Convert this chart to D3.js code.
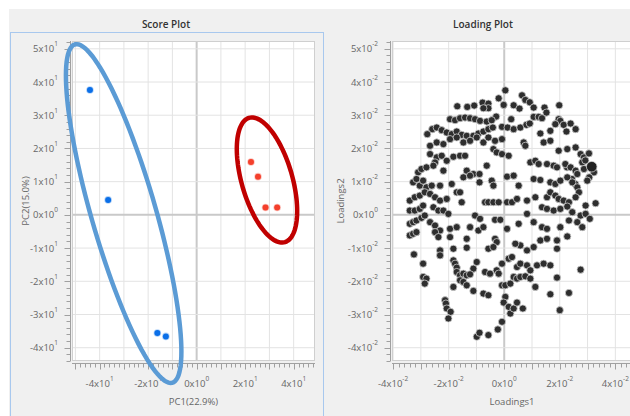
<!DOCTYPE html>
<html>
<head>
<meta charset="utf-8">
<script src="https://cdn.jsdelivr.net/npm/d3@7"></script>
<style>
  body { margin: 0; background: #fff; }
  svg { display: block; font-family: "Open Sans", "Noto Sans", sans-serif; }
</style>
</head>
<body>
<script>
// ---- score plot (PC1, PC2) ----
const blueX = [-44.0, -36.5, -16.2, -12.7];
const blueY = [37.6, 4.5, -35.6, -36.6];
const redX = [22.4, 25.3, 28.4, 33.2];
const redY = [15.9, 11.5, 2.2, 2.2];
// confidence ellipses: cx, cy, rx, ry, angle (deg, data space)
const blueEllipse = [-30.1, 0.4, 54.8, 12.85, 112.1];
const redEllipse = [29.0, 10.5, 20.2, 10.07, 114.7];
const scoreXTicks = [-40, -20, 0, 20, 40];
const scoreYTicks = [-40, -30, -20, -10, 0, 10, 20, 30, 40, 50];

// ---- loading plot, values in units of 1e-2 ----
const loadings = [
  [0.04,3.75],[-1.69,3.27],[-1.33,3.25],[-1.08,3.29],[-0.78,3.38],[-0.57,3.35],[-0.57,3.21],[-0.75,3.21],
  [-0.20,3.51],[-0.02,3.31],[0.34,3.30],[0.55,3.20],[0.64,3.60],[0.76,3.46],[0.92,3.39],[1.06,3.23],
  [1.45,3.23],[1.52,3.08],[1.98,3.30],[1.06,2.95],[1.24,2.95],[1.36,2.91],[1.96,2.88],[2.02,2.83],
  [1.84,2.73],[2.14,2.71],[2.39,2.75],[2.57,2.58],[2.24,2.51],[-0.29,2.96],[0.25,2.88],[-0.08,2.65],
  [0.12,2.63],[0.34,2.58],[0.58,2.63],[0.80,2.71],[0.92,2.75],[1.30,2.45],[1.66,2.53],
  [-1.95,2.88],[-1.77,2.85],[-1.59,2.91],[-1.41,2.93],[-1.23,2.91],[-1.05,2.88],[-0.87,2.83],[-0.63,2.81],
  [-0.45,2.85],[-2.59,2.58],[-2.77,2.43],[-2.43,2.63],[-2.25,2.55],[-2.07,2.48],[-1.89,2.43],[-1.71,2.51],
  [-1.53,2.41],[-1.35,2.38],[-1.11,2.38],[-0.93,2.45],[-0.75,2.51],[-0.57,2.58],[-0.41,2.63],
  [-2.67,2.08],[-2.43,2.18],[-2.19,2.13],[-1.95,2.28],[-1.71,2.33],[-1.47,2.18],[-1.23,2.23],[-0.99,2.33],
  [-0.75,2.18],[-0.57,2.33],[-0.33,2.23],[-0.08,2.28],[0.70,2.18],[0.76,2.08],[1.42,2.18],[1.66,2.23],
  [2.27,1.98],[2.57,2.03],[2.75,1.83],
  [-2.67,1.83],[-2.43,1.73],[-2.25,1.78],[-2.07,1.63],[-1.83,1.75],[-1.59,1.78],[-1.41,1.78],[-2.49,1.58],
  [-0.39,1.98],[-0.27,1.88],[-0.08,1.83],[0.16,1.78],[1.96,1.93],[2.87,1.73],[3.05,1.85],[2.81,1.58],
  [2.92,1.64],[2.44,1.08],[2.56,0.93],[2.26,1.43],
  [-3.10,1.28],[-2.98,1.38],[-2.80,1.43],[-2.55,1.48],[-2.19,1.33],[-1.35,1.33],[-1.11,1.23],[-0.89,1.23],
  [-0.63,1.48],[0.94,1.58],[1.12,1.63],[1.24,1.53],[1.54,1.53],[1.78,1.48],[1.90,1.43],[2.20,1.53],
  [2.39,1.43],[2.57,1.33],[2.63,1.23],[2.87,1.38],[3.23,1.28],[3.06,1.13],
  [-3.28,0.98],[-3.16,1.08],[-3.04,0.88],[-2.92,1.03],[-2.80,0.83],[-2.61,0.88],[-2.31,0.88],[-1.89,0.93],
  [-1.47,1.13],[-1.23,1.18],[-0.89,0.98],[-0.45,1.03],[-0.39,0.88],[0.10,1.15],[0.34,1.18],[0.52,0.88],
  [1.06,1.08],[1.30,1.05],[1.66,0.98],[1.84,0.93],[2.02,1.03],[2.27,1.13],[2.45,0.98],[2.63,0.83],
  [2.69,0.68],[2.99,1.03],
  [-3.40,0.43],[-3.22,0.53],[-3.04,0.58],[-2.86,0.68],[-2.67,0.63],[-2.49,0.53],[-2.31,0.43],[-2.07,0.48],
  [-1.71,0.68],[-1.59,0.68],[-1.53,0.38],[-0.69,0.38],[-0.57,0.38],[-0.39,0.38],[-0.20,0.38],[0.10,0.38],
  [0.28,0.38],[0.46,0.48],[0.82,0.43],[1.12,0.53],[1.54,0.53],[1.66,0.68],[1.84,0.58],[1.96,0.48],
  [2.14,0.43],[2.33,0.38],[2.57,0.53],[2.93,0.28],[3.29,0.35],
  [-3.40,0.13],[-3.22,0.13],[-3.04,0.18],[-2.92,0.28],[-2.55,0.23],[-2.37,0.13],[-2.19,0.13],[-2.01,0.03],
  [-1.05,-0.02],[-0.87,-0.12],[-0.33,-0.15],[-0.14,-0.15],[0.82,0.03],[1.36,0.23],[1.54,0.18],[1.78,0.13],
  [2.02,0.18],[2.27,0.25],[2.45,0.08],[2.75,-0.02],[2.93,0.03],[3.08,-0.12],
  [-3.40,-0.27],[-3.28,-0.22],[-3.16,-0.17],[-2.98,-0.09],[-2.86,-0.02],[-2.67,-0.22],[-2.49,-0.32],[-2.31,-0.47],
  [-1.95,-0.42],[-1.71,-0.37],[-1.23,-0.37],[-0.93,-0.47],[-0.75,-0.37],[0.10,-0.42],[0.52,-0.27],[1.06,-0.22],
  [1.36,-0.37],[1.54,-0.42],[2.02,-0.37],[2.33,-0.17],[2.63,-0.22],[2.81,-0.37],
  [-3.40,-0.62],[-3.28,-0.57],[-3.16,-0.52],[-2.49,-0.52],[-2.37,-0.67],[-1.95,-0.67],[-1.35,-0.72],[-0.33,-0.72],
  [-0.27,-0.82],[0.58,-0.92],[0.40,-0.87],[1.06,-0.97],[1.30,-0.77],[1.54,-0.72],[1.90,-0.77],[2.27,-0.65],
  [-3.25,-1.19],[-2.92,-1.47],[-2.31,-1.07],[-2.31,-1.22],[-1.83,-1.02],[-1.35,-0.99],[-0.57,-1.02],[-0.39,-0.97],
  [0.82,-1.07],[1.90,-1.02],
  [-1.83,-1.37],[-1.77,-1.47],[-1.71,-1.59],[-1.11,-1.62],[-0.99,-1.42],[-0.69,-1.72],[-0.51,-1.77],[-0.27,-1.67],
  [-0.08,-1.47],[0.16,-1.32],[0.28,-1.27],[0.46,-1.57],[0.58,-1.47],[0.82,-1.52],[0.94,-1.67],[1.18,-1.52],
  [1.42,-1.47],[1.66,-1.52],[2.75,-1.65],
  [-2.92,-1.87],[-2.80,-1.92],[-2.86,-2.07],[-1.83,-2.17],[-1.71,-1.72],[-1.59,-1.82],[-1.47,-1.77],[-1.35,-1.82],
  [-1.23,-1.79],[-1.59,-1.97],[-1.47,-2.02],[-1.35,-2.12],[-1.11,-2.29],[-2.13,-2.57],[-2.10,-2.67],[-2.07,-2.82],
  [-1.93,-2.92],[-2.01,-3.12],[-0.99,-3.67],[-0.89,-3.55],[-0.57,-3.62],[-0.75,-2.37],[-0.57,-2.42],[-0.20,-1.77],
  [-0.08,-2.12],[0.04,-2.12],[0.22,-2.07],[0.34,-1.87],[0.46,-1.92],[0.58,-1.87],[0.76,-1.85],[0.94,-1.92],
  [1.12,-2.17],[0.04,-2.47],[-0.02,-2.64],[0.16,-2.77],[0.22,-2.97],[0.34,-2.82],[0.46,-2.64],[0.67,-2.82],
  [-0.08,-3.22],[-0.23,-3.45],[1.66,-2.39],[1.90,-1.89],[2.33,-2.35],[2.00,-2.87]
];
const bigLoading = [3.15, 1.45];
const loadXTicks = [-0.04, -0.02, 0, 0.02, 0.04];
const loadYTicks = [-0.04, -0.03, -0.02, -0.01, 0, 0.01, 0.02, 0.03, 0.04, 0.05];

const width = 630, height = 416;

let svg = d3.select('body').append('svg')
  .attr('width', width)
  .attr('height', height)

svg.append('rect')
  .attr('x', 9).attr('y', 9)
  .attr('width', width - 9).attr('height', height - 9)
  .attr('fill', '#f0f0f0')

svg.append('rect')
  .attr('x', 10.5).attr('y', 32.5)
  .attr('width', 313).attr('height', 400)
  .attr('fill', 'none')
  .attr('stroke', '#a8c8ee')

function sciLabel(v) {
  if (Math.abs(v) < 1e-12) return ['0x10', '0'];
  let e = Math.floor(Math.log10(Math.abs(v)) + 1e-9);
  let m = Math.round(v / Math.pow(10, e));
  return [m + 'x10', String(e)];
}

function drawPanel(o) {
  let g = svg.append('g')
  let x = d3.scaleLinear().domain(o.xDomain).range([o.left, o.right])
  let y = d3.scaleLinear().domain(o.yDomain).range([o.bottom, o.top])

  g.append('rect')
    .attr('x', o.left).attr('y', o.top)
    .attr('width', o.right - o.left).attr('height', o.bottom - o.top)
    .attr('fill', '#fff')

  // grid
  let gx = d3.range(Math.ceil(o.xDomain[0] / o.grid), Math.floor(o.xDomain[1] / o.grid) + 1).map(i => i * o.grid)
  let gy = d3.range(Math.ceil(o.yDomain[0] / o.grid), Math.floor(o.yDomain[1] / o.grid) + 1).map(i => i * o.grid)
  g.selectAll('.vgrid').data(gx).enter().append('line')
    .attr('x1', d => x(d)).attr('x2', d => x(d))
    .attr('y1', o.top).attr('y2', o.bottom)
    .attr('stroke', d => Math.abs(d) < 1e-12 ? '#c9c9c9' : '#e3e3e3')
    .attr('stroke-width', d => Math.abs(d) < 1e-12 ? 2 : 1)
  g.selectAll('.hgrid').data(gy).enter().append('line')
    .attr('y1', d => y(d)).attr('y2', d => y(d))
    .attr('x1', o.left).attr('x2', o.right)
    .attr('stroke', d => Math.abs(d) < 1e-12 ? '#c9c9c9' : '#e3e3e3')
    .attr('stroke-width', d => Math.abs(d) < 1e-12 ? 2 : 1)

  g.append('rect')
    .attr('x', o.left + 0.5).attr('y', o.top + 0.5)
    .attr('width', o.right - o.left - 1).attr('height', o.bottom - o.top - 1)
    .attr('fill', 'none')
    .attr('stroke', '#cfcfcf')

  // minor / major ticks
  let n = o.grid / o.minor
  let mx = d3.range(Math.ceil(o.xDomain[0] / o.minor), Math.floor(o.xDomain[1] / o.minor) + 1)
  let my = d3.range(Math.ceil(o.yDomain[0] / o.minor), Math.floor(o.yDomain[1] / o.minor) + 1)
  let axisY = o.bottom + 2.5
  g.append('line')
    .attr('x1', o.left).attr('x2', o.right)
    .attr('y1', axisY).attr('y2', axisY)
    .attr('stroke', '#a0a0a0')
  g.selectAll('.xtick').data(mx).enter().append('line')
    .attr('x1', d => Math.round(x(d * o.minor)) + 0.5).attr('x2', d => Math.round(x(d * o.minor)) + 0.5)
    .attr('y1', axisY).attr('y2', d => axisY + (d % n === 0 ? 6 : 4))
    .attr('stroke', '#a0a0a0')
  let axisX = o.left - 1.5
  g.append('line')
    .attr('x1', axisX).attr('x2', axisX)
    .attr('y1', o.top).attr('y2', o.bottom)
    .attr('stroke', '#a0a0a0')
  g.selectAll('.ytick').data(my).enter().append('line')
    .attr('y1', d => Math.round(y(d * o.minor)) + 0.5).attr('y2', d => Math.round(y(d * o.minor)) + 0.5)
    .attr('x1', axisX).attr('x2', d => axisX - (d % n === 0 ? 6 : 4))
    .attr('stroke', '#a0a0a0')

  // tick labels
  let xl = g.selectAll('.xlab').data(o.xTicks).enter().append('text')
    .attr('x', d => x(d)).attr('y', o.bottom + 26)
    .attr('text-anchor', 'middle')
    .attr('font-size', 9.5)
    .attr('fill', '#666')
  xl.append('tspan').text(d => sciLabel(d)[0])
  xl.append('tspan').attr('font-size', 6.5).attr('dy', -6).text(d => sciLabel(d)[1])

  let yl = g.selectAll('.ylab').data(o.yTicks).enter().append('text')
    .attr('x', o.left - 14).attr('y', d => y(d) + 3.5)
    .attr('text-anchor', 'end')
    .attr('font-size', 9.5)
    .attr('fill', '#666')
  yl.append('tspan').text(d => sciLabel(d)[0])
  yl.append('tspan').attr('font-size', 6.5).attr('dy', -6).text(d => sciLabel(d)[1])

  // titles
  g.append('text')
    .attr('x', o.titleX).attr('y', 28)
    .attr('text-anchor', 'middle')
    .attr('font-size', 10)
    .attr('font-weight', 600)
    .attr('fill', '#333')
    .text(o.title)
  g.append('text')
    .attr('x', (o.left + o.right) / 2).attr('y', o.bottom + 44)
    .attr('text-anchor', 'middle')
    .attr('font-size', 9.5)
    .attr('fill', '#666')
    .text(o.xTitle)
  g.append('text')
    .attr('transform', 'translate(' + o.yTitleX + ',' + ((o.top + o.bottom) / 2) + ') rotate(-90)')
    .attr('text-anchor', 'middle')
    .attr('font-size', 9.5)
    .attr('fill', '#666')
    .text(o.yTitle)

  return { g: g, x: x, y: y }
}

// ---- Score Plot ----
let score = drawPanel({
  left: 72, right: 315, top: 41, bottom: 361,
  xDomain: [-51.4, 48.8], yDomain: [-44.0, 52.35],
  grid: 10, minor: 2,
  xTicks: scoreXTicks, yTicks: scoreYTicks,
  title: 'Score Plot', titleX: 166, xTitle: 'PC1(22.9%)', yTitle: 'PC2(15.0%)', yTitleX: 29
})

let bluePts = blueX.map((v, i) => [v, blueY[i]])
let redPts = redX.map((v, i) => [v, redY[i]])

score.g.selectAll('.blue').data(bluePts).enter().append('circle')
  .attr('cx', d => score.x(d[0])).attr('cy', d => score.y(d[1]))
  .attr('r', 3)
  .attr('fill', '#0b6fe8')
  .attr('stroke', 'rgba(11,111,232,0.3)')
  .attr('stroke-width', 1.6)

score.g.selectAll('.red').data(redPts).enter().append('circle')
  .attr('cx', d => score.x(d[0])).attr('cy', d => score.y(d[1]))
  .attr('r', 3)
  .attr('fill', '#f4402c')
  .attr('stroke', 'rgba(244,64,44,0.3)')
  .attr('stroke-width', 1.6)

function ellipsePath(e) {
  let phi = e[4] * Math.PI / 180
  let pts = d3.range(0, 120).map(i => {
    let t = i / 120 * 2 * Math.PI
    let dx = e[2] * Math.cos(t), dy = e[3] * Math.sin(t)
    return [e[0] + dx * Math.cos(phi) - dy * Math.sin(phi), e[1] + dx * Math.sin(phi) + dy * Math.cos(phi)]
  })
  return d3.line().x(d => score.x(d[0])).y(d => score.y(d[1])).curve(d3.curveLinearClosed)(pts)
}

svg.append('path')
  .attr('d', ellipsePath(blueEllipse))
  .attr('fill', 'none')
  .attr('stroke', '#5b9bd5')
  .attr('stroke-width', 4.5)

svg.append('path')
  .attr('d', ellipsePath(redEllipse))
  .attr('fill', 'none')
  .attr('stroke', '#c00000')
  .attr('stroke-width', 4.5)

// ---- Loading Plot ----
let load = drawPanel({
  left: 392, right: 632, top: 41, bottom: 361,
  xDomain: [-0.0404, 0.0460], yDomain: [-0.0440, 0.05235],
  grid: 0.01, minor: 0.002,
  xTicks: loadXTicks, yTicks: loadYTicks,
  title: 'Loading Plot', titleX: 483, xTitle: 'Loadings1', yTitle: 'Loadings2', yTitleX: 344
})

load.g.selectAll('.ld').data(loadings).enter().append('circle')
  .attr('cx', d => load.x(d[0] * 1e-2)).attr('cy', d => load.y(d[1] * 1e-2))
  .attr('r', 3.6)
  .attr('fill', '#2e2e2e')
  .attr('stroke', '#cfcfcf')
  .attr('stroke-width', 0.8)

load.g.append('circle')
  .attr('cx', load.x(bigLoading[0] * 1e-2)).attr('cy', load.y(bigLoading[1] * 1e-2))
  .attr('r', 5.3)
  .attr('fill', '#222')
  .attr('stroke', '#cfcfcf')
  .attr('stroke-width', 0.8)
</script>
</body>
</html>
